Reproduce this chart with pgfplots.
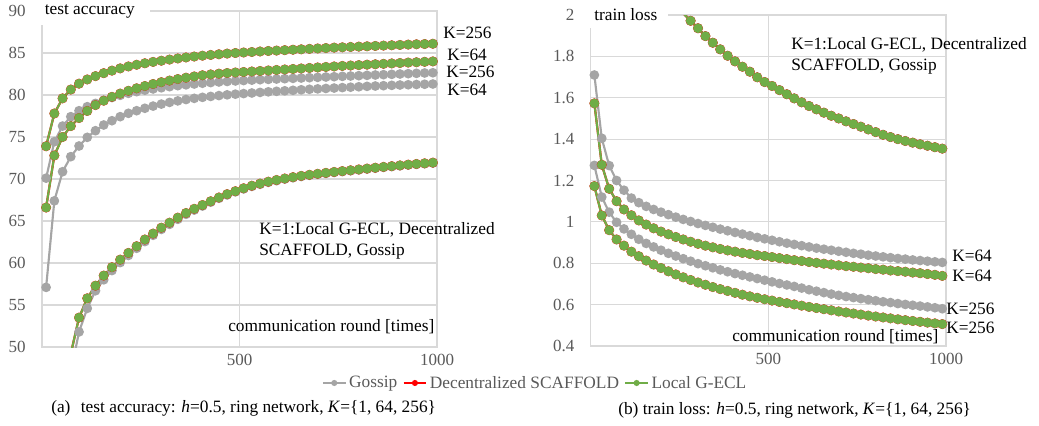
\documentclass[border=0pt]{standalone}
\usepackage{fontspec}
\setmainfont{Liberation Serif}
\usepackage{pgfplots}
\usepackage{pgfplotstable}
\pgfplotsset{compat=1.18}

\definecolor{gossip}{HTML}{A5A5A5}
\definecolor{scaf}{HTML}{FF0000}
\definecolor{gecl}{HTML}{70AD47}
\definecolor{gridc}{HTML}{D9D9D9}
\definecolor{tickc}{HTML}{595959}

% test accuracy, 48 points per series (i = point index)
\pgfplotstableread{
i g1 g64 g256 l1 l64 l256
1 25 57.1 70.1 30 66.6 73.9
2 33 67.4 74.44 38 72.8 77.8
3 41 70.87 76.3 44.5 75.0 79.6
4 47 72.66 77.42 49.2 76.3 80.65
5 51.8 73.93 78.13 53.5 77.26 81.35
6 54.6 74.96 78.61 55.8 78.1 81.85
7 56.7 75.75 79.0 57.3 78.8 82.25
8 58.0 76.43 79.38 58.5 79.32 82.6
9 59.1 76.94 79.7 59.5 79.78 82.9
10 60.05 77.42 79.96 60.4 80.17 83.17
11 60.9 77.82 80.2 61.2 80.5 83.4
12 61.75 78.13 80.4 62.0 80.8 83.6
13 62.55 78.42 80.57 62.8 81.07 83.78
14 63.3 78.68 80.72 63.5 81.31 83.94
15 64.0 78.92 80.86 64.2 81.53 84.08
16 64.6 79.12 80.99 64.8 81.72 84.22
17 65.2 79.3 81.11 65.4 81.9 84.35
18 65.8 79.46 81.21 65.95 82.06 84.47
19 66.3 79.6 81.31 66.45 82.21 84.58
20 66.78 79.72 81.4 66.9 82.35 84.68
21 67.24 79.83 81.48 67.35 82.45 84.77
22 67.7 79.93 81.55 67.8 82.54 84.85
23 68.1 80.02 81.61 68.2 82.62 84.93
24 68.47 80.1 81.67 68.55 82.68 85.0
25 68.82 80.17 81.72 68.9 82.74 85.06
26 69.12 80.24 81.77 69.2 82.8 85.12
27 69.37 80.31 81.82 69.45 82.86 85.18
28 69.6 80.38 81.86 69.68 82.92 85.24
29 69.8 80.44 81.9 69.88 82.98 85.29
30 69.99 80.5 81.94 70.06 83.04 85.34
31 70.15 80.56 81.98 70.22 83.1 85.39
32 70.3 80.62 82.02 70.37 83.16 85.44
33 70.44 80.68 82.06 70.5 83.22 85.49
34 70.56 80.73 82.1 70.62 83.28 85.54
35 70.67 80.78 82.14 70.73 83.34 85.59
36 70.78 80.83 82.18 70.84 83.4 85.64
37 70.88 80.88 82.22 70.94 83.46 85.68
38 70.98 80.93 82.26 71.04 83.51 85.72
39 71.08 80.98 82.3 71.14 83.56 85.76
40 71.18 81.03 82.34 71.24 83.61 85.8
41 71.28 81.07 82.38 71.34 83.66 85.84
42 71.38 81.11 82.42 71.44 83.71 85.88
43 71.48 81.15 82.46 71.53 83.76 85.92
44 71.57 81.19 82.5 71.62 83.81 85.96
45 71.66 81.22 82.54 71.71 83.86 86.0
46 71.74 81.25 82.58 71.79 83.9 86.04
47 71.82 81.28 82.62 71.87 83.95 86.07
48 71.9 81.31 82.65 71.95 84.0 86.1
}\acc

% train loss
\pgfplotstableread{
i g1 g64 g256 l1 l64 l256
1 3.2 1.71 1.273 3.2 1.573 1.173
2 2.97 1.404 1.12 2.97 1.276 1.031
3 2.8 1.272 1.047 2.8 1.16 0.96
4 2.66 1.2 0.998 2.66 1.1 0.915
5 2.54 1.153 0.966 2.54 1.06 0.885
6 2.44 1.115 0.94 2.44 1.032 0.856
7 2.35 1.093 0.916 2.35 1.007 0.834
8 2.27 1.075 0.896 2.27 0.987 0.813
9 2.2 1.06 0.879 2.2 0.969 0.794
10 2.14 1.047 0.863 2.14 0.953 0.777
11 2.09 1.035 0.848 2.09 0.94 0.761
12 2.047 1.023 0.835 2.047 0.927 0.746
13 2.009 1.012 0.822 2.009 0.915 0.732
14 1.972 1.002 0.81 1.972 0.904 0.719
15 1.936 0.992 0.798 1.936 0.894 0.707
16 1.898 0.983 0.788 1.898 0.885 0.696
17 1.866 0.974 0.778 1.866 0.877 0.685
18 1.834 0.965 0.768 1.834 0.869 0.675
19 1.803 0.957 0.759 1.803 0.862 0.666
20 1.776 0.949 0.75 1.776 0.856 0.657
21 1.75 0.941 0.742 1.75 0.85 0.648
22 1.726 0.933 0.734 1.726 0.845 0.64
23 1.699 0.925 0.726 1.699 0.839 0.633
24 1.676 0.918 0.718 1.676 0.835 0.626
25 1.657 0.911 0.71 1.657 0.83 0.6195
26 1.637 0.904 0.702 1.637 0.825 0.613
27 1.617 0.897 0.695 1.617 0.82 0.607
28 1.597 0.891 0.688 1.597 0.815 0.601
29 1.578 0.885 0.68 1.578 0.811 0.595
30 1.56 0.879 0.672 1.56 0.806 0.589
31 1.544 0.873 0.665 1.544 0.802 0.5835
32 1.528 0.868 0.658 1.528 0.798 0.578
33 1.513 0.863 0.651 1.513 0.794 0.5725
34 1.5 0.858 0.645 1.5 0.79 0.567
35 1.486 0.853 0.639 1.486 0.786 0.562
36 1.473 0.848 0.634 1.473 0.783 0.557
37 1.46 0.844 0.629 1.46 0.779 0.552
38 1.447 0.839 0.624 1.447 0.776 0.547
39 1.434 0.835 0.619 1.434 0.772 0.5425
40 1.421 0.831 0.614 1.421 0.769 0.538
41 1.41 0.827 0.61 1.41 0.765 0.5335
42 1.4 0.823 0.605 1.4 0.762 0.529
43 1.391 0.82 0.601 1.391 0.759 0.525
44 1.383 0.816 0.597 1.383 0.755 0.521
45 1.375 0.813 0.593 1.375 0.752 0.517
46 1.368 0.81 0.589 1.368 0.748 0.513
47 1.361 0.807 0.585 1.361 0.744 0.5095
48 1.354 0.804 0.58 1.354 0.739 0.506
}\loss

\pgfplotsset{
  excel/.style={
    scale only axis,
    axis line style={draw=gridc, line width=0.8pt},
    grid=major, grid style={draw=gridc, line width=0.8pt},
    major tick length=0pt,
    tick label style={font=\fontsize{12.75}{14}\selectfont, text=tickc},
    /pgf/number format/assume math mode=true,
    xmin=0, xmax=48, xtick={24,48}, xticklabels={500,1000},
    xticklabel style={inner ysep=0pt, yshift=-5pt},
    yticklabel style={inner xsep=0pt, xshift=-12pt},
  },
  gs/.style={gossip, line width=1.6pt, mark=*, mark size=2.8pt},
  sc/.style={scaf, line width=1.65pt, mark=*, mark size=2.88pt},
  ge/.style={gecl, line width=1.6pt, mark=*, mark size=2.8pt},
}

\begin{document}
\begin{tikzpicture}
\useasboundingbox (0pt,0pt) rectangle (779.25pt,-318.75pt);

\begin{axis}[excel,
    at={(31.5pt,-260.25pt)}, anchor=south west,
    width=296.25pt, height=252pt,
    ymin=50, ymax=90, ytick={50,55,...,90},
    legend style={at={(1.2494,-0.1071)}, anchor=center, draw=none, fill=none,
      legend columns=3, font=\fontsize{13}{15}\selectfont, text=tickc,
      /tikz/every even column/.append style={column sep=2pt}},
    legend image post style={mark size=1.6pt, line width=1.3pt},
]
\addplot[gs] table[x expr=\thisrow{i}-0.5, y=g64] {\acc};
\addlegendentry{Gossip}
\addplot[gs, forget plot] table[x expr=\thisrow{i}-0.5, y=g256] {\acc};
\addplot[gs, forget plot] table[x expr=\thisrow{i}-0.5, y=g1] {\acc};
\addplot[sc] table[x expr=\thisrow{i}-0.5, y=l64] {\acc};
\addlegendentry{Decentralized SCAFFOLD}
\addplot[sc, forget plot] table[x expr=\thisrow{i}-0.5, y=l256] {\acc};
\addplot[sc, forget plot] table[x expr=\thisrow{i}-0.5, y=l1] {\acc};
\addplot[ge] table[x expr=\thisrow{i}-0.5, y=l64] {\acc};
\addlegendentry{Local G-ECL}
\addplot[ge, forget plot] table[x expr=\thisrow{i}-0.5, y=l256] {\acc};
\addplot[ge, forget plot] table[x expr=\thisrow{i}-0.5, y=l1] {\acc};
\end{axis}

\begin{axis}[excel,
    at={(443pt,-259.5pt)}, anchor=south west,
    width=266.5pt, height=248.25pt,
    ymin=0.4, ymax=2, ytick={0.4,0.6,0.8,1,1.2,1.4,1.6,1.8,2},
]
\addplot[gs] table[x expr=\thisrow{i}-0.5, y=g64] {\loss};
\addplot[gs] table[x expr=\thisrow{i}-0.5, y=g256] {\loss};
\addplot[gs] table[x expr=\thisrow{i}-0.5, y=g1] {\loss};
\addplot[sc] table[x expr=\thisrow{i}-0.5, y=l64] {\loss};
\addplot[sc] table[x expr=\thisrow{i}-0.5, y=l256] {\loss};
\addplot[sc] table[x expr=\thisrow{i}-0.5, y=l1] {\loss};
\addplot[ge] table[x expr=\thisrow{i}-0.5, y=l64] {\loss};
\addplot[ge] table[x expr=\thisrow{i}-0.5, y=l256] {\loss};
\addplot[ge] table[x expr=\thisrow{i}-0.5, y=l1] {\loss};
\end{axis}

\begin{scope}[x=0.75pt, y=-0.75pt, font=\fontsize{13}{15}\selectfont]
  % panel titles sit on a white patch over the frame
  \fill[white] (40.5,-3) rectangle (150,25);
  \node[anchor=west, inner sep=0pt] at (44.5,11) {test accuracy};
  \fill[white] (589.5,-3) rectangle (668,28);
  \node[anchor=west, inner sep=0pt] at (594,15) {train loss};

  \node[anchor=west, inner sep=0pt] at (443,33) {K=256};
  \node[anchor=west, inner sep=0pt] at (447,55) {K=64};
  \node[anchor=west, inner sep=0pt] at (446,72) {K=256};
  \node[anchor=west, inner sep=0pt] at (447,90) {K=64};
  \node[anchor=west, inner sep=0pt] at (952,256) {K=64};
  \node[anchor=west, inner sep=0pt] at (952,276) {K=64};
  \node[anchor=west, inner sep=0pt] at (946,309) {K=256};
  \node[anchor=west, inner sep=0pt] at (946,328) {K=256};

  \node[anchor=west, inner sep=0pt] at (259,230) {K=1:Local G-ECL, Decentralized};
  \node[anchor=west, inner sep=0pt] at (259,252) {SCAFFOLD, Gossip};
  \node[anchor=west, inner sep=0pt] at (791,45) {K=1:Local G-ECL, Decentralized};
  \node[anchor=west, inner sep=0pt] at (791,67) {SCAFFOLD, Gossip};

  \node[anchor=west, inner sep=0pt] at (228,327) {communication round [times]};
  \node[anchor=west, inner sep=0pt] at (732,337) {communication round [times]};

  \node[anchor=west, inner sep=0pt] at (51,408)
    {(a)\hspace{0.6em}test accuracy: \textit{h}=0.5, ring network, \textit{K}=\{1, 64, 256\}};
  \node[anchor=west, inner sep=0pt] at (618,410)
    {(b) train loss: \textit{h}=0.5, ring network, \textit{K}=\{1, 64, 256\}};
\end{scope}
\end{tikzpicture}
\end{document}
